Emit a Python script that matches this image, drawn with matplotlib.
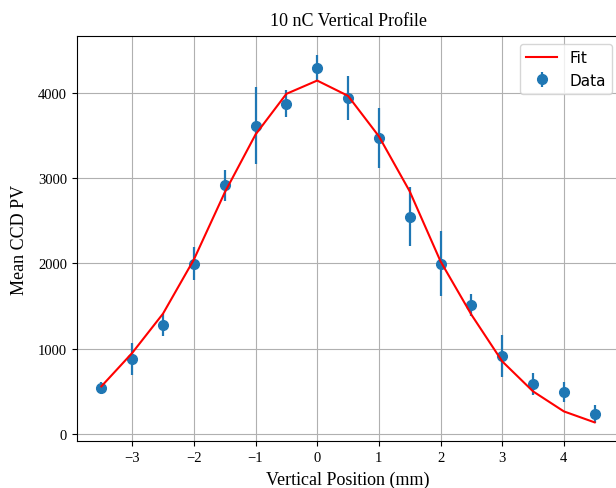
import matplotlib
matplotlib.use("Agg")
import matplotlib.pyplot as plt

positions = [-3.5, -3.0, -2.5, -2.0, -1.5, -1.0, -0.5, 0.0, 0.5, 1.0, 1.5, 2.0, 2.5, 3.0, 3.5, 4.0, 4.5]
data_pv = [540, 880, 1274, 1998, 2916, 3617, 3874, 4297, 3941, 3476, 2549, 1998, 1517, 915, 582, 493, 235]
data_err = [70, 185, 130, 195, 180, 447, 162, 150, 254, 352, 346, 380, 130, 245, 130, 115, 105]
fit_pv = [558, 950, 1411, 2045, 2830, 3511, 3988, 4144, 3965, 3491, 2846, 2025, 1400, 852, 500, 265, 136]

fig = plt.figure(figsize=(6.16, 4.89), dpi=100)
ax = fig.add_axes([0.1245, 0.0955, 0.8809, 0.8282])

ax.plot(positions, fit_pv, color="red", lw=1.5, label="Fit", zorder=3)
ax.errorbar(positions, data_pv, yerr=data_err, fmt="o", color="#1f77b4",
            markersize=7, elinewidth=1.6, label="Data", zorder=2)

ax.grid(True, color="#b0b0b0", lw=0.8)
ax.set_axisbelow(True)

serif = "Liberation Serif"
ax.set_title("10 nC Vertical Profile", fontfamily=serif, fontsize=13, pad=8)
ax.set_xlabel("Vertical Position (mm)", fontfamily=serif, fontsize=13, labelpad=4.5)
ax.set_ylabel("Mean CCD PV", fontfamily=serif, fontsize=13, labelpad=7)
ax.set_xticks([-3, -2, -1, 0, 1, 2, 3, 4])
ax.set_yticks([0, 1000, 2000, 3000, 4000])
for lbl in ax.get_xticklabels() + ax.get_yticklabels():
    lbl.set_fontfamily(serif)
    lbl.set_fontsize(10.5)

ax.legend(loc="upper right", fontsize=11)

fig.savefig("out.png", dpi=100)
